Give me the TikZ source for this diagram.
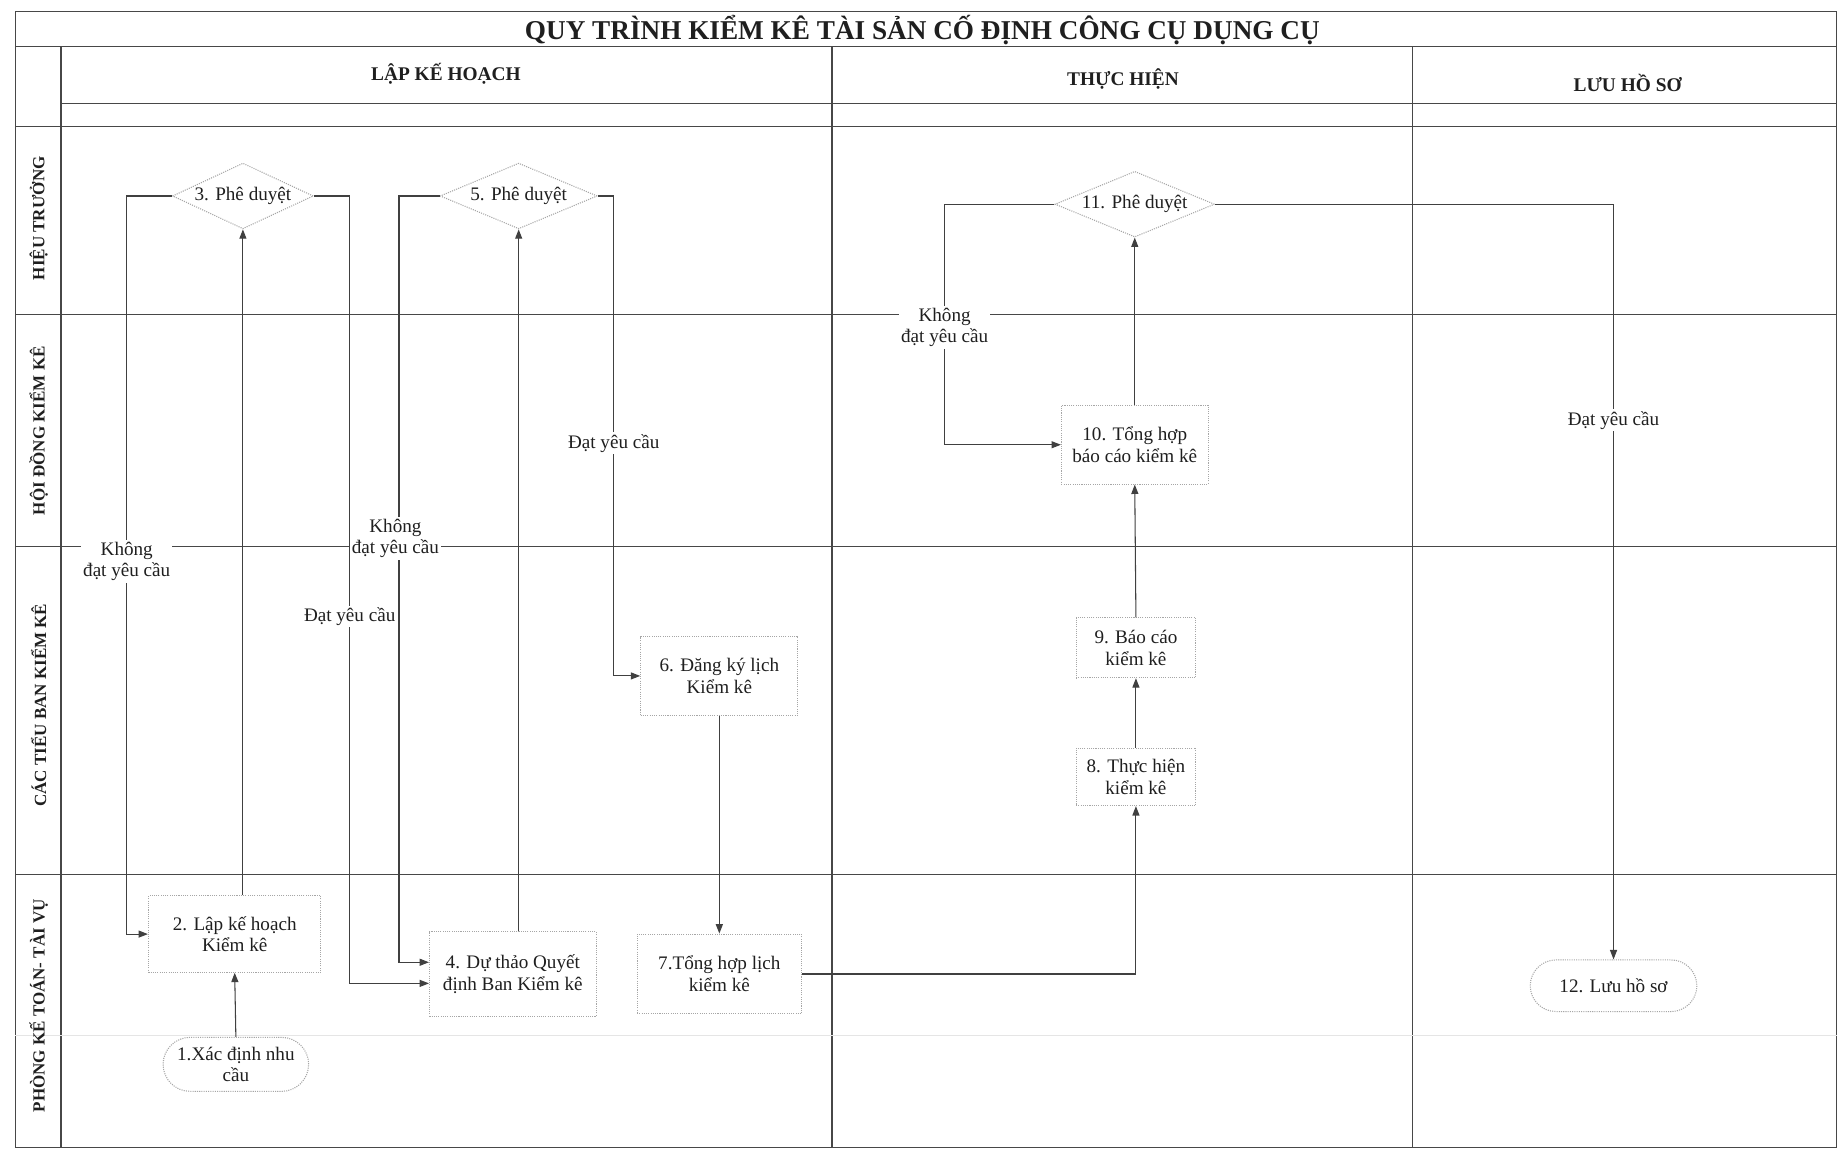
\documentclass[tikz,border=0pt]{standalone}
\usepackage{fontspec}
\setmainfont{Liberation Serif}
\usetikzlibrary{shapes.geometric,shapes.misc,arrows.meta}
\begin{document}
\begin{tikzpicture}[x=1pt,y=-1pt,
  frame/.style={draw=black!72, line width=0.9pt},
  faint/.style={draw=black!10, line width=0.8pt},
  box/.style={draw=black!35, densely dotted, line width=0.9pt, fill=white, align=center,
    text=black!88, font=\fontsize{16.3}{18.5}\selectfont, inner sep=2pt},
  term/.style={box, rounded rectangle},
  dec/.style={draw=black!35, densely dotted, line width=0.9pt, fill=white, diamond, aspect=2.3,
    inner sep=0pt, text=black!88, font=\fontsize{16.3}{18.5}\selectfont},
  conn/.style={draw=black!75, line width=0.9pt, -{Triangle[length=8pt,width=6pt]}},
  lbl/.style={fill=white, inner sep=1.5pt, align=center, text=black!88,
    font=\fontsize{16.3}{18.5}\selectfont},
  head/.style={text=black!88, font=\fontsize{16.5}{19}\selectfont\bfseries},
  lanelbl/.style={text=black!88, font=\fontsize{14.5}{17}\selectfont\bfseries, rotate=90}
]
\useasboundingbox (0,0) rectangle (1568,983);
\fill[white] (0,0) rectangle (1568,983);

% ---------- frame and lanes ----------
\draw[frame] (13,10) rectangle (1565,978);
\draw[frame] (13,40) -- (1565,40);
\draw[frame] (52,40) -- (52,978);
\draw[frame] (52,88) -- (1565,88);
\draw[frame] (13,108) -- (1565,108);
\draw[frame] (709,40) -- (709,978);
\draw[frame] (1204,40) -- (1204,978);
\draw[frame] (13,268) -- (1565,268);
\draw[frame] (13,466) -- (1565,466);
\draw[frame] (13,745) -- (1565,745);
\draw[faint] (13,882) -- (1565,882);

% ---------- titles ----------
\node[text=black!88, font=\fontsize{23.2}{27}\selectfont\bfseries] (title) at (786,26)
  {QUY TRÌNH KIỂM KÊ TÀI SẢN CỐ ĐỊNH CÔNG CỤ DỤNG CỤ};
\node[head] (h1) at (380,63) {LẬP KẾ HOẠCH};
\node[head] (h2) at (957,67) {THỰC HIỆN};
\node[head] (h3) at (1387,71) {LƯU HỒ SƠ};

\node[lanelbl] (l1) at (33,186) {HIỆU TRƯỞNG};
\node[lanelbl] (l2) at (33,367) {HỘI ĐỒNG KIỂM KÊ};
\node[lanelbl] (l3) at (33,601) {CÁC TIỂU BAN KIỂM KÊ};
\node[lanelbl] (l4) at (33,857) {PHÒNG KẾ TOÁN- TÀI VỤ};

% ---------- nodes ----------
\node[dec, minimum width=120, minimum height=56] (d3) at (207,167) {3. Phê duyệt};
\node[dec, minimum width=134, minimum height=56] (d5) at (442,167) {5. Phê duyệt};
\node[dec, minimum width=136, minimum height=56] (d11) at (967,174) {11. Phê duyệt};

\node[box, minimum width=147, minimum height=65] (n2) at (200,796) {2. Lập kế hoạch\\Kiểm kê};
\node[term, minimum width=128, minimum height=46] (n1) at (201,907) {1.Xác định nhu\\cầu};
\node[box, minimum width=142, minimum height=72] (n4) at (437,830) {4. Dự thảo Quyết\\định Ban Kiểm kê};
\node[box, minimum width=134, minimum height=67] (n6) at (613,576) {6. Đăng ký lịch\\Kiểm kê};
\node[box, minimum width=140, minimum height=68] (n7) at (613,830) {7.Tổng hợp lịch\\kiểm kê};
\node[box, minimum width=102, minimum height=49] (n8) at (968,662) {8. Thực hiện\\kiểm kê};
\node[box, minimum width=102, minimum height=51] (n9) at (968,552) {9. Báo cáo\\kiểm kê};
\node[box, minimum width=125, minimum height=67] (n10) at (967,379) {10. Tổng hợp\\báo cáo kiểm kê};
\node[term, minimum width=146, minimum height=44] (n12) at (1375,840) {12. Lưu hồ sơ};

% ---------- bend points ----------
\coordinate (k3l) at (108,167);
\coordinate (k3r) at (298,167);
\coordinate (k5l) at (340,167);
\coordinate (k5r) at (523,167);
\coordinate (k11l) at (805,174);
\coordinate (n4lo) at ([yshift=-8pt]n4.west);
\coordinate (n4hi) at ([yshift=10pt]n4.west);

% ---------- connectors ----------
\draw[conn] (n1.north) -- (n2.south);
\draw[conn] (n2.north -| d3.south) -- (d3.south);
\draw[conn] (d3.west) -- (k3l) -- node[lbl, pos=0.495] {Không\\đạt yêu cầu} (k3l |- n2.west) -- (n2.west);
\draw[conn] (d3.east) -- (k3r) -- node[lbl, pos=0.534] {Đạt yêu cầu} (k3r |- n4lo) -- (n4lo);
\draw[conn] (d5.west) -- (k5l) -- node[lbl, pos=0.447, xshift=-3pt] {Không\\đạt yêu cầu} (k5l |- n4hi) -- (n4hi);
\draw[conn] (n4.north -| d5.south) -- (d5.south);
\draw[conn] (d5.east) -- (k5r) -- node[lbl, pos=0.515] {Đạt yêu cầu} (k5r |- n6.west) -- (n6.west);
\draw[conn] (n6.south) -- (n7.north);
\draw[conn] (n7.east) -| (n8.south);
\draw[conn] (n8.north) -- (n9.south);
\draw[conn] (n9.north) -- (n10.south);
\draw[conn] (n10.north) -- (d11.south);
\draw[conn] (d11.west) -- (k11l) -- node[lbl, pos=0.512] {Không\\đạt yêu cầu} (k11l |- n10.west) -- (n10.west);
\draw[conn] (d11.east) -| node[lbl, pos=0.643] {Đạt yêu cầu} (n12.north);
\end{tikzpicture}
\end{document}
